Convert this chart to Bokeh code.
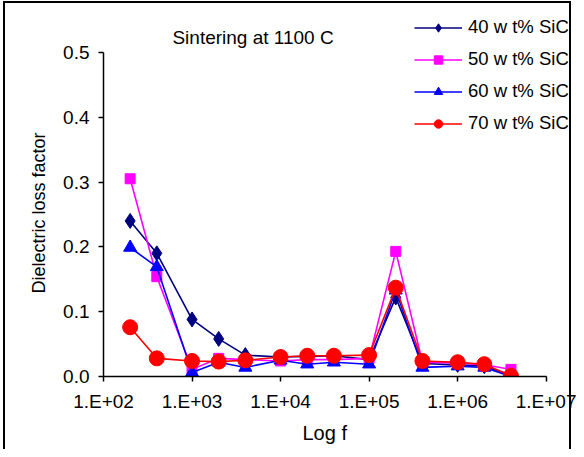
from bokeh.plotting import figure
from bokeh.models import (Range1d, FixedTicker, NumeralTickFormatter, Legend,
                          LegendItem, Label, Title, InlineStyleSheet)
from bokeh.embed import file_html
from bokeh.resources import INLINE

# ---- data ----
freq = [200, 400, 1000, 2000, 4000, 10000, 20000, 40000, 100000, 200000,
        400000, 1000000, 2000000, 4000000]
sic40 = [0.240, 0.190, 0.088, 0.058, 0.033, 0.030, 0.031, 0.032, 0.026, 0.122,
         0.020, 0.018, 0.016, 0.002]
sic50 = [0.305, 0.154, 0.011, 0.028, 0.026, 0.024, 0.026, 0.026, 0.028, 0.193,
         0.022, 0.021, 0.018, 0.011]
sic60 = [0.199, 0.169, 0.006, 0.022, 0.014, 0.025, 0.019, 0.022, 0.019, 0.133,
         0.014, 0.016, 0.014, 0.000]
sic70 = [0.076, 0.028, 0.024, 0.023, 0.025, 0.030, 0.032, 0.032, 0.033, 0.137,
         0.024, 0.022, 0.019, 0.001]
series_labels = ["40 w t% SiC", "50 w t% SiC", "60 w t% SiC", "70 w t% SiC"]
xtick_values = [100, 1000, 10000, 100000, 1000000, 10000000]
xtick_labels = ["1.E+02", "1.E+03", "1.E+04", "1.E+05", "1.E+06", "1.E+07"]
ytick_values = [0.0, 0.1, 0.2, 0.3, 0.4, 0.5]
title_text = "Sintering at 1100 C"
x_title = "Log f"
y_title = "Dielectric loss factor"

FONT = "Liberation Sans"

# frame is extended above / right of the axes so the legend and the chart
# title (which sit outside the plotted area in the original) are not clipped;
# the axes themselves are limited with `bounds`.
p = figure(width=576, height=449, x_axis_type="log",
           x_range=Range1d(100, 2.2e7), y_range=Range1d(0, 0.58),
           output_backend="svg", toolbar_location=None,
           min_border_left=103, min_border_right=0,
           min_border_top=0, min_border_bottom=73)
p.outline_line_color = None
p.grid.visible = False
p.background_fill_color = "white"
p.border_fill_color = "white"

# outer chart-area border
p.stylesheets = [InlineStyleSheet(css="""
:host { position: relative; }
:host::after {
  content: ""; position: absolute; left: 3px; top: 1px; right: 5px; bottom: 0px;
  border: 2px solid black; border-bottom: none; pointer-events: none;
}
""")]

# axes
p.xaxis.ticker = FixedTicker(ticks=xtick_values)
p.xaxis.major_label_overrides = {v: l for v, l in zip(xtick_values, xtick_labels)}
p.xaxis.bounds = (xtick_values[0], xtick_values[-1])
p.yaxis.ticker = FixedTicker(ticks=ytick_values)
p.yaxis.formatter = NumeralTickFormatter(format="0.0")
p.yaxis.bounds = (ytick_values[0], ytick_values[-1])
for ax in (p.xaxis, p.yaxis):
    ax.axis_line_color = "black"
    ax.axis_line_width = 1.5
    ax.major_tick_line_color = "black"
    ax.major_tick_line_width = 1.5
    ax.major_tick_in = 0
    ax.major_tick_out = 5
    ax.minor_tick_line_color = None
    ax.major_label_text_font = FONT
    ax.major_label_text_font_size = "19px"
    ax.major_label_text_color = "black"
p.xaxis.major_label_standoff = 9
p.yaxis.major_label_standoff = 9

# axis titles (placed as panel titles so they can be positioned along the axes)
p.add_layout(Title(text=y_title, align="left", offset=83, standoff=23,
                   text_font=FONT, text_font_size="18px",
                   text_font_style="normal", text_color="black"), "left")
p.add_layout(Title(text=x_title, align="left", offset=199, standoff=11,
                   text_font=FONT, text_font_size="20px",
                   text_font_style="normal", text_color="black"), "below")

# series
styles = [
    dict(color="#000080", marker="diamond", size=15),
    dict(color="#FF00FF", marker="square", size=10),
    dict(color="#0000FF", marker="triangle", size=13),
    dict(color="#FF0000", marker="circle", size=15),
]
items = []
for ys, lab, st in zip([sic40, sic50, sic60, sic70], series_labels, styles):
    ln = p.line(freq, ys, line_color=st["color"], line_width=1.6)
    sc = p.scatter(freq, ys, marker=st["marker"], size=st["size"],
                   fill_color=st["color"], line_color=st["color"])
    items.append(LegendItem(label=lab, renderers=[ln, sc]))

legend = Legend(items=items, location=(311, 242), padding=0, margin=0,
                glyph_width=48, glyph_height=21, label_height=21, spacing=10,
                label_standoff=6, border_line_color=None,
                background_fill_alpha=0, label_text_font=FONT,
                label_text_font_size="18.5px", label_text_color="black")
p.add_layout(legend, "center")

# chart title inside chart area
p.add_layout(Label(x=4890, y=0.5234, text=title_text, text_align="center",
                   text_baseline="middle", text_font=FONT,
                   text_font_size="19px", text_color="black"))

open("out.html", "w").write(file_html(p, INLINE))
